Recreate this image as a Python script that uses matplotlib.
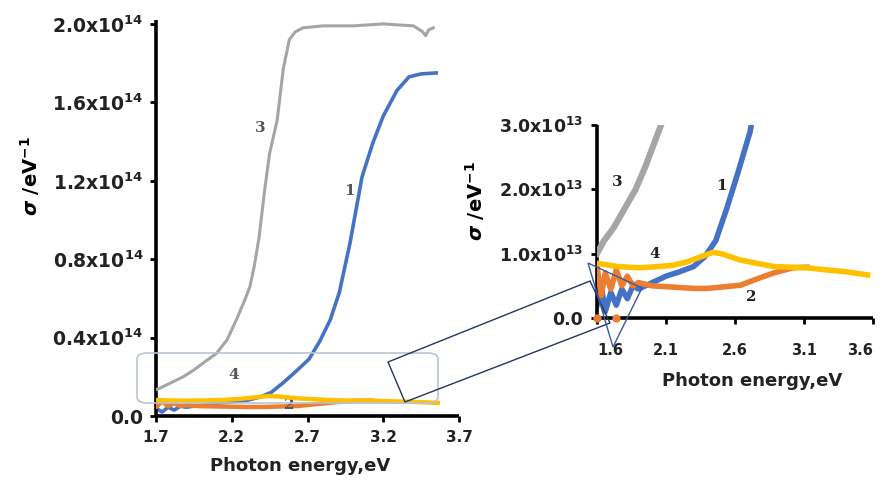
import matplotlib
matplotlib.use("Agg")
import matplotlib.pyplot as plt
from matplotlib.patches import FancyBboxPatch, Polygon

plt.rcParams['font.family'] = ['DejaVu Sans']
plt.rcParams['font.weight'] = 'bold'
plt.rcParams['mathtext.fontset'] = 'custom'
plt.rcParams['mathtext.rm'] = 'DejaVu Sans:bold'
plt.rcParams['mathtext.bf'] = 'DejaVu Sans:bold'
plt.rcParams['mathtext.it'] = 'DejaVu Sans:italic:bold'

# ---------------- data (photon energy in eV, sigma in eV^-1) ----------------
E_gray = [1.60, 1.65, 1.72, 1.80, 1.88, 1.95, 2.02, 2.10, 2.17, 2.23, 2.28, 2.32,
          2.35, 2.38, 2.42, 2.45, 2.50, 2.54, 2.58, 2.62, 2.67, 2.80, 3.00, 3.20,
          3.40, 3.46, 3.48, 3.50, 3.53]
S_gray = [1.0e13, 1.2e13, 1.4e13, 1.7e13, 2.0e13, 2.35e13, 2.75e13, 3.2e13,
          3.9e13, 4.9e13, 5.8e13, 6.6e13, 7.7e13, 9.1e13, 11.7e13, 13.4e13,
          15.1e13, 17.7e13, 19.2e13, 19.6e13, 19.8e13, 19.9e13, 19.9e13, 20.0e13,
          19.9e13, 19.6e13, 19.4e13, 19.7e13, 19.8e13]

E_blue = [1.60, 1.63, 1.66, 1.70, 1.74, 1.78, 1.82, 1.86, 1.90, 2.00, 2.10, 2.20,
          2.30, 2.38, 2.46, 2.54, 2.62, 2.71, 2.78, 2.85, 2.91, 2.98, 3.02, 3.06,
          3.13, 3.20, 3.29, 3.37, 3.45, 3.55]
S_blue = [0.2e13, 0.5e13, 0.1e13, 0.4e13, 0.2e13, 0.45e13, 0.3e13, 0.5e13, 0.45e13,
          0.55e13, 0.65e13, 0.72e13, 0.8e13, 0.95e13, 1.2e13, 1.7e13, 2.25e13,
          2.9e13, 3.8e13, 4.9e13, 6.3e13, 8.8e13, 10.5e13, 12.2e13, 13.9e13,
          15.3e13, 16.6e13, 17.3e13, 17.45e13, 17.5e13]

E_orange = [1.60, 1.63, 1.66, 1.70, 1.74, 1.78, 1.82, 1.86, 1.90, 2.00, 2.15, 2.30,
            2.40, 2.50, 2.64, 2.75, 2.88, 3.02, 3.12]
S_orange = [0.8e13, 0.35e13, 0.7e13, 0.45e13, 0.75e13, 0.5e13, 0.65e13, 0.5e13,
            0.55e13, 0.5e13, 0.48e13, 0.46e13, 0.46e13, 0.48e13, 0.51e13, 0.6e13,
            0.7e13, 0.78e13, 0.79e13]
E_orange_zero = [1.60, 1.74]
S_orange_zero = [0.0, 0.0]

E_yellow = [1.60, 1.75, 1.91, 2.05, 2.15, 2.25, 2.35, 2.44, 2.50, 2.64, 2.76, 2.88,
            3.00, 3.12, 3.25, 3.40, 3.56]
S_yellow = [0.85e13, 0.8e13, 0.78e13, 0.8e13, 0.82e13, 0.87e13, 0.95e13, 1.02e13,
            1.0e13, 0.9e13, 0.85e13, 0.8e13, 0.79e13, 0.78e13, 0.75e13, 0.72e13,
            0.67e13]

main_xticks = [1.7, 2.2, 2.7, 3.2, 3.7]
main_xticklabels = ['1.7', '2.2', '2.7', '3.2', '3.7']
main_yticks = [0.0, 0.4e14, 0.8e14, 1.2e14, 1.6e14, 2.0e14]
main_yticklabels = ['0.0', '0.4x10$^{14}$', '0.8x10$^{14}$', '1.2x10$^{14}$',
                    '1.6x10$^{14}$', '2.0x10$^{14}$']
inset_xticks = [1.6, 2.1, 2.6, 3.1, 3.6]
inset_xticklabels = ['1.6', '2.1', '2.6', '3.1', '3.6']
inset_yticks = [0.0, 1.0e13, 2.0e13, 3.0e13]
inset_yticklabels = ['0.0', '1.0x10$^{13}$', '2.0x10$^{13}$', '3.0x10$^{13}$']

C_GRAY = '#a5a5a5'
C_BLUE = '#4472c4'
C_ORANGE = '#ed7d31'
C_YELLOW = '#ffc000'
TXT = '#222222'

W, H = 883, 482
fig = plt.figure(figsize=(W / 100, H / 100), dpi=100)


def px_rect(x0, y_top, x1, y_bot):
    return [x0 / W, 1 - y_bot / H, (x1 - x0) / W, (y_bot - y_top) / H]


def style_axes(ax):
    for s in ['top', 'right']:
        ax.spines[s].set_visible(False)
    for s in ['left', 'bottom']:
        ax.spines[s].set_linewidth(2.6)
        ax.spines[s].set_color('black')
        ax.spines[s].set_capstyle('butt')
    ax.tick_params(axis='both', direction='out', length=4, width=2, color='black')
    ax.patch.set_alpha(0)


# ---------------- main axes ----------------
ax = fig.add_axes(px_rect(156, 20, 459, 416))
style_axes(ax)
ax.plot(E_blue, S_blue, color=C_BLUE, lw=2.6, zorder=2)
ax.plot(E_orange, S_orange, color=C_ORANGE, lw=3.2, zorder=3)
ax.plot(E_yellow, S_yellow, color=C_YELLOW, lw=3.2, zorder=4)
ax.plot(E_gray, S_gray, color=C_GRAY, lw=2.2, zorder=5)
ax.set_xlim(1.7, 3.7)
ax.set_ylim(0, 2.02e14)
ax.set_xticks(main_xticks)
ax.set_xticklabels(main_xticklabels, fontsize=11, fontweight='bold', color=TXT)
ax.set_yticks(main_yticks)
ax.set_yticklabels(main_yticklabels, fontsize=13.5, fontweight='bold', color=TXT)
ax.tick_params(axis='x', pad=6)
ax.tick_params(axis='y', pad=5)
ax.set_xlabel('Photon energy,eV', fontsize=13, fontweight='bold', color=TXT)
ax.xaxis.set_label_coords((300 - 156) / (459 - 156), -(466 - 416) / (416 - 20),
                          transform=ax.transAxes)
ax.xaxis.label.set_va('center')
ax.set_ylabel(r'$\sigma$ /eV$^{-1}$', fontsize=14, fontweight='bold', color='black')
ax.yaxis.set_label_coords(-(156 - 30) / (459 - 156), (416 - 176) / (416 - 20))
ax.yaxis.label.set_va('center')

lab_kw = dict(fontsize=11, color='#555555', family='DejaVu Serif', ha='center', va='center')
ax.text(2.39, 1.47e14, '3', **lab_kw)
ax.text(2.98, 1.15e14, '1', **lab_kw)
ax.text(2.21, 0.21e14, '4', **lab_kw)
ax.text(2.58, 0.056e14, '2', **lab_kw)

# ---------------- inset axes ----------------
ax2 = fig.add_axes(px_rect(597, 125, 873, 318))
style_axes(ax2)
ax2.plot(E_blue, S_blue, color=C_BLUE, lw=4.0, zorder=2)
ax2.plot(E_orange, S_orange, color=C_ORANGE, lw=4.0, zorder=3)
ax2.plot(E_orange_zero, S_orange_zero, 'o', color=C_ORANGE, ms=5, zorder=3, clip_on=False)
ax2.plot(E_yellow, S_yellow, color=C_YELLOW, lw=4.0, zorder=4)
ax2.plot(E_gray, S_gray, color=C_GRAY, lw=4.5, zorder=5)
ax2.set_xlim(1.6, 3.6)
ax2.set_ylim(0, 3.0e13)
ax2.set_xticks(inset_xticks)
ax2.set_xticklabels(inset_xticklabels, fontsize=10.5, fontweight='bold', color=TXT)
ax2.set_yticks(inset_yticks)
ax2.set_yticklabels(inset_yticklabels, fontsize=12.5, fontweight='bold', color=TXT)
ax2.tick_params(axis='x', pad=14)
ax2.tick_params(axis='y', pad=6)
xl = ax2.get_xticklabels()
xl[0].set_ha('left')
xl[-1].set_ha('right')
ax2.set_xlabel('Photon energy,eV', fontsize=13, fontweight='bold', color=TXT)
ax2.xaxis.set_label_coords((752 - 597) / (873 - 597), -(381 - 318) / (318 - 125))
ax2.xaxis.label.set_va('center')
ax2.set_ylabel(r'$\sigma$ /eV$^{-1}$', fontsize=14, fontweight='bold', color='black')
ax2.yaxis.set_label_coords(-(597 - 475) / (873 - 597), (318 - 201) / (318 - 125))
ax2.yaxis.label.set_va('center')

lab2_kw = dict(fontsize=11, color=TXT, family='DejaVu Serif', fontweight='bold',
               ha='center', va='center')
ax2.text(1.75, 2.12e13, '3', **lab2_kw)
ax2.text(2.50, 2.05e13, '1', **lab2_kw)
ax2.text(2.02, 1.0e13, '4', **lab2_kw)
ax2.text(2.72, 0.33e13, '2', **lab2_kw)

# ---------------- callout graphics (figure pixel coordinates) ----------------
def fxy(x, y):
    return (x / W, 1 - y / H)


box = FancyBboxPatch(fxy(137, 403), (438 - 137) / W, (403 - 353) / H,
                     boxstyle='round,pad=0,rounding_size=0.012',
                     transform=fig.transFigure, fill=False,
                     edgecolor='#b9c3d3', lw=1.2, zorder=10)
fig.patches.append(box)

navy = '#24355f'
para = Polygon([fxy(388, 362), fxy(590, 281), fxy(610, 323), fxy(405, 402)],
               closed=True, fill=False, edgecolor=navy, lw=1.0,
               transform=fig.transFigure, zorder=10)
fig.patches.append(para)
tri = Polygon([fxy(588, 263), fxy(642, 288), fxy(613, 347)], closed=True, fill=False,
              edgecolor='#3b5a9a', lw=1.0, transform=fig.transFigure, zorder=10)
fig.patches.append(tri)

fig.savefig('out.png', dpi=100)
